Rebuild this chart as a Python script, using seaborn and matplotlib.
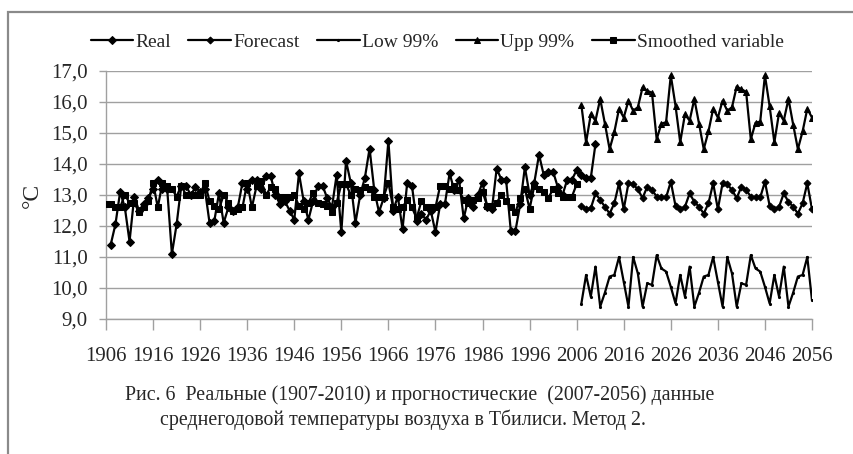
"""
Среднегодовая температура воздуха в Тбилиси: реальные данные (1907-2010),
сглаженная переменная и прогноз (2007-2056) с 99% границами. Метод 2.
"""

import numpy as np
import pandas as pd
import seaborn as sns
import matplotlib.pyplot as plt
from matplotlib.patches import Rectangle
from matplotlib.ticker import FuncFormatter

# --------------------------------------------------------------------
# Данные
# --------------------------------------------------------------------
real_years = list(range(1907, 2011))
real_values = [
    11.4, 12.05, 13.1, 12.6, 11.5, 12.95, 12.5, 12.7, 12.9, 13.2,     # 1907-1916
    13.5, 13.2, 13.2, 11.1, 12.05, 13.3, 13.3, 13.0, 13.25, 13.1,     # 1917-1926
    13.2, 12.1, 12.15, 13.05, 12.1, 12.6, 12.5, 12.6, 13.4, 13.2,     # 1927-1936
    13.5, 13.5, 13.2, 13.6, 13.6, 13.0, 12.7, 12.8, 12.5, 12.2,       # 1937-1946
    13.7, 12.8, 12.2, 12.8, 13.3, 13.3, 12.9, 12.6, 13.65, 11.8,      # 1947-1956
    14.1, 13.4, 12.1, 13.0, 13.55, 14.5, 13.15, 12.45, 12.9, 14.75,   # 1957-1966
    12.5, 12.95, 11.9, 13.4, 13.3, 12.15, 12.4, 12.2, 12.5, 11.8,     # 1967-1976
    12.7, 12.7, 13.7, 13.15, 13.5, 12.25, 12.9, 12.6, 13.0, 13.4,     # 1977-1986
    12.6, 12.55, 13.85, 13.5, 13.5, 11.85, 11.85, 12.7, 13.9, 13.0,   # 1987-1996
    13.4, 14.3, 13.65, 13.75, 13.75, 13.25, 13.0, 13.5, 13.5, 13.8,   # 1997-2006
    13.65, 13.55, 13.55, 14.65,                                       # 2007-2010
]

smooth_years = list(range(1906, 2007))
smooth_values = [
    12.7, 12.7, 12.6, 12.6, 13.0, 12.75, 12.75, 12.45, 12.6, 12.8,    # 1906-1915
    13.4, 12.6, 13.4, 13.3, 13.2, 12.95, 13.3, 13.0, 13.0, 13.0,      # 1916-1925
    13.0, 13.4, 12.8, 12.65, 12.55, 13.0, 12.75, 12.5, 12.55, 12.6,   # 1926-1935
    13.4, 12.6, 13.3, 13.45, 13.0, 13.25, 13.2, 12.95, 12.95, 12.95,  # 1936-1945
    13.0, 12.65, 12.55, 12.75, 13.05, 12.75, 12.7, 12.65, 12.45, 12.75,  # 1946-1955
    13.35, 13.35, 13.0, 13.2, 13.15, 13.25, 13.2, 12.95, 12.95, 12.95,   # 1956-1965
    13.4, 12.6, 12.55, 12.6, 12.85, 12.6, 12.25, 12.8, 12.6, 12.6,    # 1966-1975
    12.6, 13.3, 13.3, 13.2, 13.3, 13.15, 12.85, 12.75, 12.85, 12.9,   # 1976-1985
    13.1, 12.65, 12.65, 12.75, 13.0, 12.8, 12.6, 12.45, 12.9, 13.2,   # 1986-1995
    12.55, 13.3, 13.2, 13.1, 12.9, 13.2, 13.05, 12.95, 12.95, 12.95,  # 1996-2005
    13.35,                                                            # 2006
]

fc_years = list(range(2007, 2057))
forecast_values = [
    12.66, 12.54, 12.57, 13.05, 12.84, 12.62, 12.4, 12.73, 13.38, 12.54,   # 2007-2016
    13.38, 13.35, 13.18, 12.9, 13.27, 13.16, 12.95, 12.92, 12.92, 13.43,   # 2017-2026
    12.65, 12.54, 12.62, 13.05, 12.78, 12.62, 12.4, 12.73, 13.38, 12.54,   # 2027-2036
    13.38, 13.35, 13.16, 12.9, 13.27, 13.16, 12.95, 12.92, 12.92, 13.43,   # 2037-2046
    12.65, 12.54, 12.62, 13.05, 12.78, 12.62, 12.4, 12.73, 13.38, 12.54,   # 2047-2056
]
low_values = [
    9.5, 10.42, 9.72, 10.69, 9.4, 9.85, 10.37, 10.42, 11.0, 10.2,        # 2007-2016
    9.4, 11.0, 10.47, 9.4, 10.15, 10.1, 11.06, 10.63, 10.53, 10.04,      # 2017-2026
    9.5, 10.42, 9.72, 10.69, 9.4, 9.85, 10.37, 10.42, 11.0, 10.2,        # 2027-2036
    9.4, 11.0, 10.47, 9.4, 10.15, 10.1, 11.06, 10.63, 10.53, 10.04,      # 2037-2046
    9.5, 10.42, 9.72, 10.69, 9.4, 9.85, 10.37, 10.42, 11.0, 9.6,         # 2047-2056
]
upp_values = [
    15.9, 14.7, 15.6, 15.4, 16.1, 15.3, 14.48, 15.03, 15.78, 15.5,       # 2007-2016
    16.04, 15.72, 15.83, 16.47, 16.36, 16.3, 14.8, 15.3, 15.35, 16.86,   # 2017-2026
    15.88, 14.7, 15.6, 15.4, 16.1, 15.3, 14.48, 15.05, 15.78, 15.5,      # 2027-2036
    16.04, 15.72, 15.83, 16.5, 16.41, 16.33, 14.8, 15.33, 15.37, 16.86,  # 2037-2046
    15.86, 14.7, 15.65, 15.4, 16.1, 15.27, 14.48, 15.05, 15.78, 15.5,    # 2047-2056
]

x_ticks = list(range(1906, 2057, 10))
y_ticks = list(range(9, 18))

caption_1 = "Рис. 6  Реальные (1907-2010) и прогностические  (2007-2056) данные"
caption_2 = "среднегодовой температуры воздуха в Тбилиси. Метод 2."

# --------------------------------------------------------------------
# Рисунок
# --------------------------------------------------------------------
sns.set_theme(style="white")
plt.rcParams["font.family"] = ["Liberation Serif", "DejaVu Serif"]

fig = plt.figure(figsize=(8.54, 4.54), dpi=100)
ax = fig.add_axes([106 / 854, 135 / 454, 706 / 854, 248 / 454])

# рамка области диаграммы
fig.patches.append(Rectangle((8 / 854, -0.1), 1.2, 1.1 - 12 / 454,
                             transform=fig.transFigure, fill=False,
                             edgecolor="#8a8a8a", linewidth=1.6))

series = [
    (real_years, real_values, "Real", "D", 4.5),
    (fc_years, forecast_values, "Forecast", "D", 3.5),
    (fc_years, low_values, "Low 99%", "o", 1.5),
    (fc_years, upp_values, "Upp 99%", "^", 5),
    (smooth_years, smooth_values, "Smoothed variable", "s", 4.5),
]
for xs, ys, name, mk, ms in series:
    sns.lineplot(x=xs, y=ys, ax=ax, color="black", linewidth=1.6,
                 marker=mk, markersize=ms, markeredgecolor="black",
                 label=name, zorder=3)

ax.set_xlim(1906, 2056)
ax.set_ylim(9, 17)
ax.set_xticks(x_ticks)
ax.set_yticks(y_ticks)
ax.yaxis.set_major_formatter(FuncFormatter(lambda v, _: f"{v:.1f}".replace(".", ",")))
ax.grid(axis="y", color="#a0a0a0", linewidth=1.0)
ax.grid(axis="x", visible=False)

for side in ("top", "right"):
    ax.spines[side].set_visible(False)
for side in ("left", "bottom"):
    ax.spines[side].set_color("#a0a0a0")
    ax.spines[side].set_linewidth(1.0)

ax.tick_params(axis="x", which="major", direction="out", length=8, width=1,
               color="#a0a0a0", pad=12, labelsize=15, bottom=True)
ax.tick_params(axis="y", which="major", direction="out", length=5, width=1,
               color="#a0a0a0", pad=8, labelsize=15, left=True)
ax.set_xlabel("")
ax.set_ylabel("°C", fontsize=17)
ax.yaxis.set_label_coords(-0.09, 0.5)

handles, labels = ax.get_legend_handles_labels()
ax.get_legend().remove()
fig.legend(handles, labels, loc="center", bbox_to_anchor=(437 / 854, 1 - 42 / 454),
           ncol=5, frameon=False, fontsize=14, handlelength=2.2,
           handletextpad=0.1, columnspacing=0.9)

fig.text(125 / 854, 1 - 395 / 454, caption_1, fontsize=14.3, ha="left", va="center")
fig.text(160 / 854, 1 - 420 / 454, caption_2, fontsize=14.3, ha="left", va="center")

fig.savefig("out.png", dpi=100)
plt.close(fig)
